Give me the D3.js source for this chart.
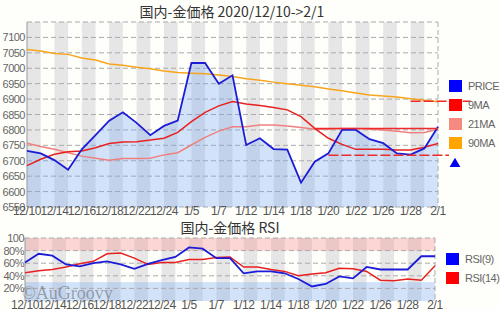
<!DOCTYPE html>
<html>
<head>
<meta charset="utf-8">
<script src="https://cdn.jsdelivr.net/npm/d3@7"></script>
<style>
  body { margin: 0; background: #fefefb; }
  svg { display: block; font-family: "Liberation Sans", Arial, sans-serif; }
</style>
</head>
<body>
<script>
// data
var dates = ['12/10','12/11','12/14','12/15','12/16','12/17','12/18','12/21','12/22','12/23','12/24','12/25',
  '1/5','1/6','1/7','1/8','1/12','1/13','1/14','1/15','1/18','1/19','1/20','1/21','1/22','1/25','1/26','1/27','1/28','1/29','2/1'];

var price = [6732,6724,6702,6671,6737,6783,6830,6857,6823,6783,6813,6830,
  7017,7017,6950,6977,6751,6773,6738,6736,6629,6697,6724,6800,6800,6770,6757,6724,6720,6740,6810];
var ma9 = [6684,6705,6721,6729,6732,6742,6756,6761,6762,6767,6773,6792,
  6827,6857,6878,6892,6884,6879,6873,6865,6843,6805,6773,6753,6737,6737,6737,6735,6735,6744,6756];
var ma21 = [6757,6746,6737,6726,6715,6708,6702,6707,6707,6708,6719,6726,
  6751,6776,6796,6810,6810,6816,6816,6813,6808,6802,6802,6805,6805,6802,6800,6796,6791,6792,6802];
var ma90 = [7061,7056,7048,7045,7033,7027,7014,7010,7003,6998,6991,6986,
  6984,6982,6978,6973,6966,6961,6955,6950,6945,6940,6933,6927,6920,6913,6910,6907,6901,6896,6891];

var rsi9 = [61,75,72,58,55,60,63,58,51,59,65,70,
  85,83,68,68,44,47,47,44,35,23,27,39,36,54,50,50,50,71,71];
var rsi14 = [45,48,50,54,59,63,75,76,68,58,61,61,
  66,66,69,70,54,54,50,47,40,43,45,52,51,47,33,32,35,33,56];

var priceTicks = [6550,6600,6650,6700,6750,6800,6850,6900,6950,7000,7050,7100,7150];
var rsiTicks = [0,20,40,60,80,100];
var rsiTickLabels = {20:'20%',40:'40%',60:'60%',80:'80%',100:'100'};

// level lines: [value, from index, to index (past 30 = beyond the plot), dashed]
var levels = [[6805,21,30,false],[6718,22,30.8,true],[6893,28,32.4,true]];

var W = 500, H = 310;
var svg = d3.select('body').append('svg').attr('width', W).attr('height', H);

function stripes(g, x, y0, y1) {
  for (var i = 0; i < dates.length - 1; i += 2) {
    g.append('rect').attr('x', x(i)).attr('y', y0)
      .attr('width', x(i + 1) - x(i)).attr('height', y1 - y0).attr('fill', '#e6e6e6');
  }
}

function hgrid(g, x, y, ticks) {
  g.selectAll('line.grid').data(ticks).enter().append('line')
    .attr('x1', x.range()[0]).attr('x2', x.range()[1])
    .attr('y1', function (d) { return y(d); }).attr('y2', function (d) { return y(d); })
    .attr('stroke', '#aaa').attr('stroke-dasharray', '5,3').attr('stroke-width', 1);
}

function line(x, y, arr) {
  return d3.line().x(function (d, i) { return x(i); }).y(function (d) { return y(d); })(arr);
}

// ---------- main chart ----------
var x = d3.scaleLinear().domain([0, dates.length - 1]).range([27, 438]);
var y = d3.scaleLinear().domain([6550, 7150]).range([207, 22]);
var g = svg.append('g');

stripes(g, x, 22, 207);
hgrid(g, x, y, priceTicks);

g.append('path')
  .attr('d', d3.area().x(function (d, i) { return x(i); }).y0(y(6550)).y1(function (d) { return y(d); })(price))
  .attr('fill', 'rgba(110,165,245,0.3)');

g.append('line').attr('x1', 438).attr('x2', 438).attr('y1', 22).attr('y2', 207)
  .attr('stroke', '#aaa').attr('stroke-dasharray', '5,3');
g.append('line').attr('x1', 27).attr('x2', 27).attr('y1', 22).attr('y2', 207).attr('stroke', '#999');

g.append('path').attr('d', line(x, y, ma90)).attr('fill', 'none').attr('stroke', '#f8a51c').attr('stroke-width', 1.5);
g.append('path').attr('d', line(x, y, ma21)).attr('fill', 'none').attr('stroke', '#f08080').attr('stroke-width', 1.5);
g.append('path').attr('d', line(x, y, ma9)).attr('fill', 'none').attr('stroke', '#e82020').attr('stroke-width', 1.5);
g.append('path').attr('d', line(x, y, price)).attr('fill', 'none').attr('stroke', '#1c1cd8').attr('stroke-width', 1.8);

levels.forEach(function (l) {
  g.append('line').attr('x1', x(l[1])).attr('x2', x(l[2]))
    .attr('y1', y(l[0])).attr('y2', y(l[0]))
    .attr('stroke', '#ee2a2a').attr('stroke-width', 1.5)
    .attr('stroke-dasharray', l[3] ? '10,3' : null);
});

g.append('g').selectAll('text').data(priceTicks.slice(0, -1)).enter().append('text')
  .attr('x', 25).attr('y', function (d) { return y(d) + 4; })
  .attr('text-anchor', 'end').attr('font-size', 11).attr('letter-spacing', -0.5).attr('fill', '#666')
  .text(function (d) { return d; });

g.append('g').selectAll('text').data(dates).enter().append('text')
  .filter(function (d, i) { return i % 2 === 0; })
  .attr('x', function (d) { return x(dates.indexOf(d)); }).attr('y', 215)
  .attr('text-anchor', 'middle').attr('font-size', 12).attr('letter-spacing', -0.4).attr('fill', '#555')
  .text(function (d) { return d; });

svg.append('text').attr('x', 232).attr('y', 17).attr('text-anchor', 'middle')
  .attr('font-family', '"Noto Sans CJK JP", sans-serif')
  .attr('font-size', 14).attr('fill', '#333').text('国内-金価格 2020/12/10->2/1');

var legend = [['PRICE', '#0000ff'], ['9MA', '#ff0000'], ['21MA', '#f58a80'], ['90MA', '#ffa500']];
legend.forEach(function (l, i) {
  svg.append('rect').attr('x', 449).attr('y', 80 + i * 19).attr('width', 13).attr('height', 12).attr('fill', l[1]);
  svg.append('text').attr('x', 468).attr('y', 90 + i * 19).attr('font-size', 11).attr('letter-spacing', -0.5)
    .attr('fill', '#666').text(l[0]);
});
svg.append('path').attr('d', d3.symbol(d3.symbolTriangle, 50)()).attr('transform', 'translate(455,164)').attr('fill', '#0000ee');

// ---------- RSI chart ----------
var x2 = d3.scaleLinear().domain([0, dates.length - 1]).range([25, 435]);
var y2 = d3.scaleLinear().domain([0, 100]).range([301, 238]);
var g2 = svg.append('g');

stripes(g2, x2, 238, 301);
g2.append('rect').attr('x', 25).attr('y', y2(100)).attr('width', 410).attr('height', y2(80) - y2(100)).attr('fill', 'rgba(245,140,140,0.35)');
g2.append('rect').attr('x', 25).attr('y', y2(30)).attr('width', 410).attr('height', y2(0) - y2(30)).attr('fill', 'rgba(110,165,245,0.3)');
hgrid(g2, x2, y2, rsiTicks.slice(1));
g2.append('line').attr('x1', 435).attr('x2', 435).attr('y1', 238).attr('y2', 301)
  .attr('stroke', '#aaa').attr('stroke-dasharray', '5,3');
g2.append('line').attr('x1', 25).attr('x2', 25).attr('y1', 238).attr('y2', 301).attr('stroke', '#999');

g2.append('path').attr('d', line(x2, y2, rsi14)).attr('fill', 'none').attr('stroke', '#e82020').attr('stroke-width', 1.5);
g2.append('path').attr('d', line(x2, y2, rsi9)).attr('fill', 'none').attr('stroke', '#1c1cd8').attr('stroke-width', 1.8);

g2.append('g').selectAll('text').data(rsiTicks.slice(1)).enter().append('text')
  .attr('x', 24).attr('y', function (d) { return y2(d) + 4; })
  .attr('text-anchor', 'end').attr('font-size', 11).attr('letter-spacing', -0.5).attr('fill', '#666')
  .text(function (d) { return rsiTickLabels[d]; });

g2.append('g').selectAll('text').data(dates).enter().append('text')
  .filter(function (d, i) { return i % 2 === 0; })
  .attr('x', function (d) { return x2(dates.indexOf(d)); }).attr('y', 309)
  .attr('text-anchor', 'middle').attr('font-size', 12).attr('letter-spacing', -0.4).attr('fill', '#555')
  .text(function (d) { return d; });

svg.append('text').attr('x', 230).attr('y', 233).attr('text-anchor', 'middle')
  .attr('font-family', '"Noto Sans CJK JP", sans-serif')
  .attr('font-size', 14).attr('fill', '#333').text('国内-金価格 RSI');

[['RSI(9)', '#0000ff'], ['RSI(14)', '#ff0000']].forEach(function (l, i) {
  svg.append('rect').attr('x', 446).attr('y', 253 + i * 19).attr('width', 13).attr('height', 12).attr('fill', l[1]);
  svg.append('text').attr('x', 465).attr('y', 263 + i * 19).attr('font-size', 11).attr('letter-spacing', -0.5)
    .attr('fill', '#666').text(l[0]);
});

svg.append('text').attr('x', 22).attr('y', 299).attr('font-family', '"Liberation Serif", serif')
  .attr('font-size', 18).attr('fill', 'rgba(90,90,90,0.5)').text('©AuGroovy');
</script>
</body>
</html>
